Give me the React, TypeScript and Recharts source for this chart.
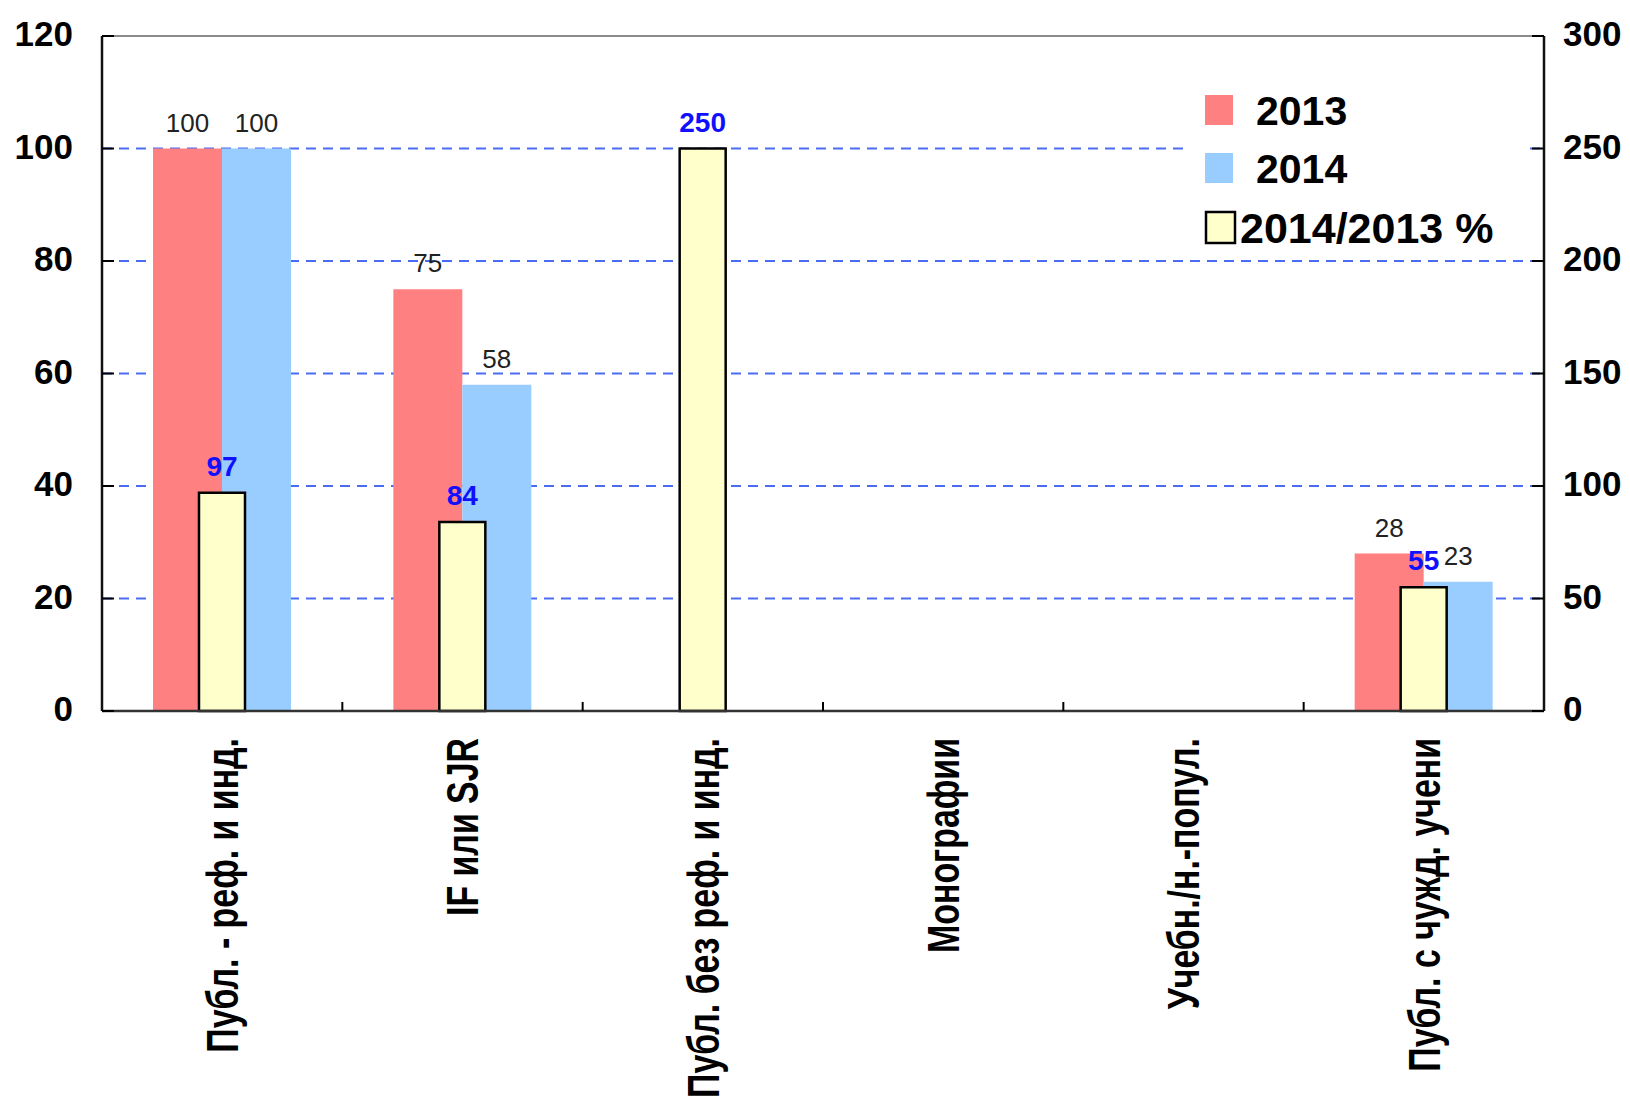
import React from 'react';
import {
  BarChart,
  Bar,
  XAxis,
  YAxis,
  CartesianGrid,
  ReferenceLine,
  LabelList,
  Legend,
} from 'recharts';

// Publication categories (x axis)
const categories = [
  'Публ. - реф. и инд.',
  'IF или SJR',
  'Публ. без реф. и инд.',
  'Монографии',
  'Учебн./н.-попул.',
  'Публ. с чужд. учени',
];

// Publication counts per year (left axis)
const values2013: (number | null)[] = [100, 75, null, null, null, 28];
const values2014: (number | null)[] = [100, 58, null, null, null, 23];

// Ratio 2014/2013 in percent (right axis)
const ratioPct: (number | null)[] = [97, 84, 250, 0, null, 55];

// Axis ticks
const leftTicks = [0, 20, 40, 60, 80, 100, 120];
const rightTicks = [0, 50, 100, 150, 200, 250, 300];
const gridValues = [20, 40, 60, 80, 100];

const seriesNames = { y2013: '2013', y2014: '2014', ratio: '2014/2013 %' };

const data = categories.map((name, i) => ({
  name,
  y2013: values2013[i],
  y2014: values2014[i],
  ratio: ratioPct[i],
}));

const FONT = '"Liberation Sans", Arial, Helvetica, sans-serif';
const W = 1630;
const H = 1097;
const LEFT_W = 102;
const RIGHT_W = 86;
const BAND = (W - LEFT_W - RIGHT_W) / categories.length;

const LeftTick = (props: any) => {
  const { x, y, payload } = props;
  return (
    <g>
      <line x1={x} x2={x + 12} y1={y} y2={y} stroke="#000" strokeWidth={2} />
      <text
        x={x - 29}
        y={y}
        dy={10}
        textAnchor="end"
        fontSize={35}
        fontWeight="bold"
        fontFamily={FONT}
        fill="#000"
      >
        {payload.value}
      </text>
    </g>
  );
};

const RightTick = (props: any) => {
  const { x, y, payload } = props;
  return (
    <g>
      <line x1={x - 12} x2={x} y1={y} y2={y} stroke="#000" strokeWidth={2} />
      <text
        x={x + 19}
        y={y}
        dy={10}
        textAnchor="start"
        fontSize={35}
        fontWeight="bold"
        fontFamily={FONT}
        fill="#000"
      >
        {payload.value}
      </text>
    </g>
  );
};

const CategoryTick = (props: any) => {
  const { x, y, payload, index } = props;
  return (
    <g>
      {index > 0 && (
        <line
          x1={x - BAND / 2}
          x2={x - BAND / 2}
          y1={y}
          y2={y - 9}
          stroke="#000"
          strokeWidth={2}
        />
      )}
      <text
        transform={`translate(${x},${y + 27}) rotate(-90) scale(0.77,1)`}
        x={0}
        y={0}
        dy="0.36em"
        textAnchor="end"
        fontSize={44}
        fontWeight="bold"
        fontFamily={FONT}
        fill="#000"
      >
        {payload.value}
      </text>
    </g>
  );
};

const legendRows = [
  { square: { x: 22, y: 10, w: 28, h: 30 }, textX: 73, size: 41 },
  { square: { x: 22, y: 68, w: 28, h: 30 }, textX: 73, size: 41 },
  { square: { x: 23, y: 127, w: 29, h: 31 }, textX: 57, size: 43 },
];

const LegendBox = (props: any) => {
  const payload = props.payload || [];
  return (
    <svg width={345} height={165} style={{ display: 'block', background: '#fff', overflow: 'visible' }}>
      {payload.map((p: any, i: number) => {
        const row = legendRows[i] || legendRows[legendRows.length - 1];
        const stroke = p.payload && p.payload.stroke;
        return (
          <g key={p.value}>
            <rect
              x={row.square.x}
              y={row.square.y}
              width={row.square.w}
              height={row.square.h}
              fill={p.color}
              stroke={stroke || 'none'}
              strokeWidth={stroke ? 2.5 : 0}
            />
            <text
              x={row.textX}
              y={row.square.y + row.square.h}
              fontSize={row.size}
              fontWeight="bold"
              fontFamily={FONT}
              fill="#000"
            >
              {p.value}
            </text>
          </g>
        );
      })}
    </svg>
  );
};

export default function App() {
  return (
    <div style={{ position: 'absolute', left: 0, top: 0, width: W, height: H, background: '#fff' }}>
      <BarChart
        width={W}
        height={H}
        data={data}
        margin={{ top: 36, right: 0, left: 0, bottom: 0 }}
        barGap={0}
      >
        <CartesianGrid
          yAxisId="left"
          xAxisId="cat"
          vertical={false}
          horizontalValues={gridValues}
          stroke="#4a6cf5"
          strokeWidth={2}
          strokeDasharray="10 7"
        />
        <XAxis
          xAxisId="cat"
          dataKey="name"
          height={H - 711}
          interval={0}
          tickSize={0}
          tickMargin={0}
          tickLine={false}
          axisLine={{ stroke: '#333', strokeWidth: 2.5 }}
          tick={<CategoryTick />}
        />
        <XAxis xAxisId="ratio" dataKey="name" hide />
        <YAxis
          yAxisId="left"
          orientation="left"
          width={LEFT_W}
          domain={[0, 120]}
          ticks={leftTicks}
          interval={0}
          tickSize={0}
          tickMargin={0}
          tickLine={false}
          axisLine={{ stroke: '#111', strokeWidth: 2.5 }}
          tick={<LeftTick />}
        />
        <YAxis
          yAxisId="right"
          orientation="right"
          width={RIGHT_W}
          domain={[0, 300]}
          ticks={rightTicks}
          interval={0}
          tickSize={0}
          tickMargin={0}
          tickLine={false}
          axisLine={{ stroke: '#111', strokeWidth: 2.5 }}
          tick={<RightTick />}
        />
        <ReferenceLine yAxisId="left" xAxisId="cat" y={120} stroke="#666" strokeWidth={1.5} />
        <Bar
          xAxisId="cat"
          yAxisId="left"
          dataKey="y2013"
          name={seriesNames.y2013}
          fill="#FF8080"
          barSize={69}
          isAnimationActive={false}
        >
          <LabelList
            dataKey="y2013"
            position="top"
            offset={17}
            fill="#222"
            fontSize={26}
            fontFamily={FONT}
          />
        </Bar>
        <Bar
          xAxisId="cat"
          yAxisId="left"
          dataKey="y2014"
          name={seriesNames.y2014}
          fill="#99CCFF"
          barSize={69}
          isAnimationActive={false}
        >
          <LabelList
            dataKey="y2014"
            position="top"
            offset={17}
            fill="#222"
            fontSize={26}
            fontFamily={FONT}
          />
        </Bar>
        <Bar
          xAxisId="ratio"
          yAxisId="right"
          dataKey="ratio"
          name={seriesNames.ratio}
          fill="#FFFFCC"
          stroke="#000"
          strokeWidth={2.5}
          barSize={46}
          isAnimationActive={false}
        >
          <LabelList
            dataKey="ratio"
            position="top"
            offset={17}
            fill="#1010ff"
            fontSize={28}
            fontWeight="bold"
            fontFamily={FONT}
          />
        </Bar>
        <Legend
          layout="vertical"
          align="center"
          verticalAlign="middle"
          content={<LegendBox />}
          wrapperStyle={{ left: 1183, top: 85, width: 345, height: 165, overflow: 'visible' }}
        />
      </BarChart>
    </div>
  );
}
